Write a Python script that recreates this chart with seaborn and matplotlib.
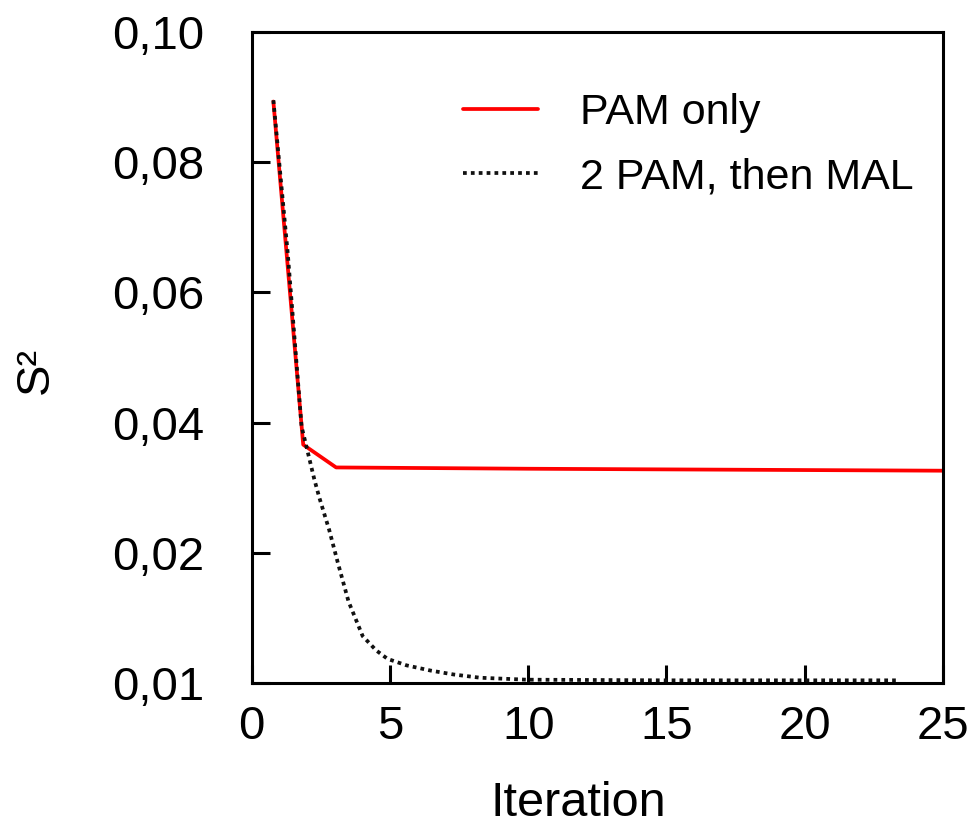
import pandas as pd
import matplotlib
matplotlib.use("Agg")
import matplotlib.pyplot as plt
import seaborn as sns

# data
pam_x = [0.78, 1.86, 3.05, 10.0, 25.0]
pam_y = [0.0893, 0.0366, 0.0331, 0.0329, 0.0326]

mal_x = [0.78, 1.3, 1.8, 2.26, 2.44, 2.8, 3.11, 3.5, 4.01, 4.5, 4.91, 5.6, 6.47, 7.3, 8.26, 9.94, 15.0, 20.0, 23.3]
mal_y = [0.0895, 0.066, 0.0394, 0.0313, 0.0285, 0.0235, 0.0185, 0.0125, 0.0072, 0.0050, 0.0037, 0.0027, 0.0019, 0.0013, 0.0008, 0.0005, 0.0004, 0.0004, 0.0004]

y_ticks = [0.10, 0.08, 0.06, 0.04, 0.02, 0.0]
y_tick_labels = ["0,10", "0,08", "0,06", "0,04", "0,02", "0,01"]
x_ticks = [0, 5, 10, 15, 20, 25]

df_pam = pd.DataFrame({"iteration": pam_x, "s2": pam_y})
df_mal = pd.DataFrame({"iteration": mal_x, "s2": mal_y})

sns.set_style("ticks")
plt.rcParams["font.family"] = ["Liberation Sans", "DejaVu Sans"]
plt.rcParams["text.color"] = "black"
plt.rcParams["axes.labelcolor"] = "black"
plt.rcParams["xtick.color"] = "black"
plt.rcParams["ytick.color"] = "black"

fig = plt.figure(figsize=(9.76, 8.39), dpi=100)
ax = fig.add_axes([0.258, 0.186, 0.708, 0.776])

sns.lineplot(data=df_pam, x="iteration", y="s2", ax=ax, color="#ff0000",
             linewidth=2.7, label="PAM only")
sns.lineplot(data=df_mal, x="iteration", y="s2", ax=ax, color="#111111",
             linewidth=2.7, linestyle=(0, (1, 1.1)), label="2 PAM, then MAL")

ax.set_xlim(0, 25)
ax.set_ylim(0, 0.10)
ax.set_xticks(x_ticks)
ax.set_yticks(y_ticks)
ax.set_yticklabels(y_tick_labels)

for side in ["left", "right", "top", "bottom"]:
    ax.spines[side].set_visible(True)
    ax.spines[side].set_linewidth(2.2)
    ax.spines[side].set_color("black")

ax.tick_params(axis="both", direction="in", length=13, width=2.2, labelsize=34)
ax.tick_params(axis="y", pad=34)
ax.tick_params(axis="x", pad=16)

ax.set_xlabel("Iteration", fontsize=35)
ax.set_ylabel("S²", fontsize=34)
ax.xaxis.set_label_coords(0.472, -0.150)
ax.yaxis.set_label_coords(-0.281, 0.48)

ax.legend(loc="upper right", bbox_to_anchor=(1.014, 0.965), frameon=False,
          fontsize=31, handlelength=1.75, handletextpad=0.97, labelspacing=0.55)

fig.savefig("out.png", dpi=100)
